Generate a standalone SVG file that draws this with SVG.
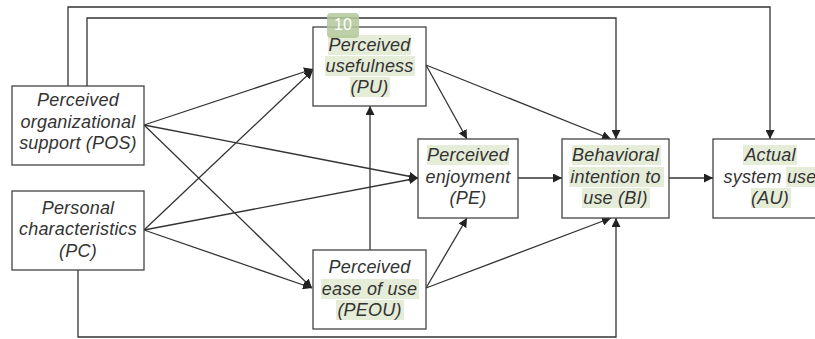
<svg xmlns="http://www.w3.org/2000/svg" width="815" height="339" viewBox="0 0 815 339">
<style>
.box{fill:#fff;stroke:#444;stroke-width:1.3}
.t{font-family:"Liberation Sans",Arial,sans-serif;font-style:italic;font-size:18px;letter-spacing:0.2px;fill:#333;text-anchor:middle}
.hl{fill:#e5ecd8}
.c{fill:none;stroke:#333;stroke-width:1.3}
</style>
<defs>
<marker id="ah" viewBox="0 0 10 10" refX="10" refY="5" markerWidth="9" markerHeight="9" markerUnits="userSpaceOnUse" orient="auto">
<path d="M0,0 L10,5 L0,10 z" fill="#222"/>
</marker>
</defs>
<rect width="815" height="339" fill="#fff"/>
<g id="connectors">
<polyline class="c" points="68,86 68,7 770,7 770,139" marker-end="url(#ah)"/>
<polyline class="c" points="87,86 87,18 616,18 616,139" marker-end="url(#ah)"/>
<polyline class="c" points="78,270 78,337 616,337 616,218" marker-end="url(#ah)"/>
<line class="c" x1="144" y1="125" x2="313" y2="69" marker-end="url(#ah)"/>
<line class="c" x1="144" y1="125" x2="418" y2="178" marker-end="url(#ah)"/>
<line class="c" x1="144" y1="125" x2="312" y2="288" marker-end="url(#ah)"/>
<line class="c" x1="144" y1="230" x2="313" y2="70" marker-end="url(#ah)"/>
<line class="c" x1="144" y1="230" x2="418" y2="178" marker-end="url(#ah)"/>
<line class="c" x1="144" y1="230" x2="312" y2="288" marker-end="url(#ah)"/>
<line class="c" x1="370" y1="250" x2="370" y2="106" marker-end="url(#ah)"/>
<line class="c" x1="426" y1="65" x2="467" y2="139" marker-end="url(#ah)"/>
<line class="c" x1="426" y1="65" x2="611" y2="139" marker-end="url(#ah)"/>
<line class="c" x1="518" y1="178" x2="562" y2="178" marker-end="url(#ah)"/>
<line class="c" x1="669" y1="178" x2="713" y2="178" marker-end="url(#ah)"/>
<line class="c" x1="426" y1="288" x2="467" y2="218" marker-end="url(#ah)"/>
<line class="c" x1="426" y1="288" x2="611" y2="218" marker-end="url(#ah)"/>
</g>
<g id="POS">
<rect class="box" x="12" y="86" width="132" height="79"/>
<text class="t" x="78" y="106">Perceived</text>
<text class="t" x="78" y="128">organizational</text>
<text class="t" x="78" y="149">support (POS)</text>
</g>
<g id="PC">
<rect class="box" x="12" y="191" width="132" height="79"/>
<text class="t" x="78" y="214">Personal</text>
<text class="t" x="78" y="235">characteristics</text>
<text class="t" x="78" y="257">(PC)</text>
</g>
<g id="PU">
<rect class="box" x="313" y="27" width="113" height="79"/>
<rect class="hl" x="328" y="35" width="83" height="20"/>
<rect class="hl" x="325" y="56" width="90" height="20"/>
<rect class="hl" x="350" y="77" width="40" height="20"/>
<text class="t" x="369.5" y="51">Perceived</text>
<text class="t" x="369.5" y="72">usefulness</text>
<text class="t" x="369.5" y="93">(PU)</text>
</g>
<g id="PE">
<rect class="box" x="418" y="139" width="100" height="79"/>
<rect class="hl" x="427" y="145" width="82" height="20"/>
<text class="t" x="468" y="161">Perceived</text>
<text class="t" x="468" y="183">enjoyment</text>
<text class="t" x="468" y="204">(PE)</text>
</g>
<g id="BI">
<rect class="box" x="562" y="139" width="107" height="79"/>
<rect class="hl" x="572" y="145" width="89" height="20"/>
<rect class="hl" x="569" y="167" width="95" height="20"/>
<rect class="hl" x="582" y="188" width="68" height="20"/>
<text class="t" x="615.5" y="161">Behavioral</text>
<text class="t" x="615.5" y="183">intention to</text>
<text class="t" x="615.5" y="204">use (BI)</text>
</g>
<g id="AU">
<rect class="box" x="713" y="139" width="110" height="79"/>
<rect class="hl" x="743" y="145" width="54" height="20"/>
<rect class="hl" x="786" y="167" width="29" height="20"/>
<rect class="hl" x="751" y="188" width="40" height="20"/>
<text class="t" x="770" y="161">Actual</text>
<text class="t" x="770" y="183">system use</text>
<text class="t" x="770" y="204">(AU)</text>
</g>
<g id="PEOU">
<rect class="box" x="313" y="250" width="113" height="79"/>
<rect class="hl" x="321" y="279" width="98" height="20"/>
<rect class="hl" x="336" y="300" width="68" height="20"/>
<text class="t" x="369.5" y="273">Perceived</text>
<text class="t" x="369.5" y="295">ease of use</text>
<text class="t" x="369.5" y="316">(PEOU)</text>
</g>
<g id="badge">
<rect x="327" y="13" width="32" height="25" rx="4" fill="#b3c898" opacity="0.85"/>
<text x="343" y="30" font-family="Liberation Sans,Arial,sans-serif" font-size="16" fill="#fff" text-anchor="middle">10</text>
</g>
</svg>
